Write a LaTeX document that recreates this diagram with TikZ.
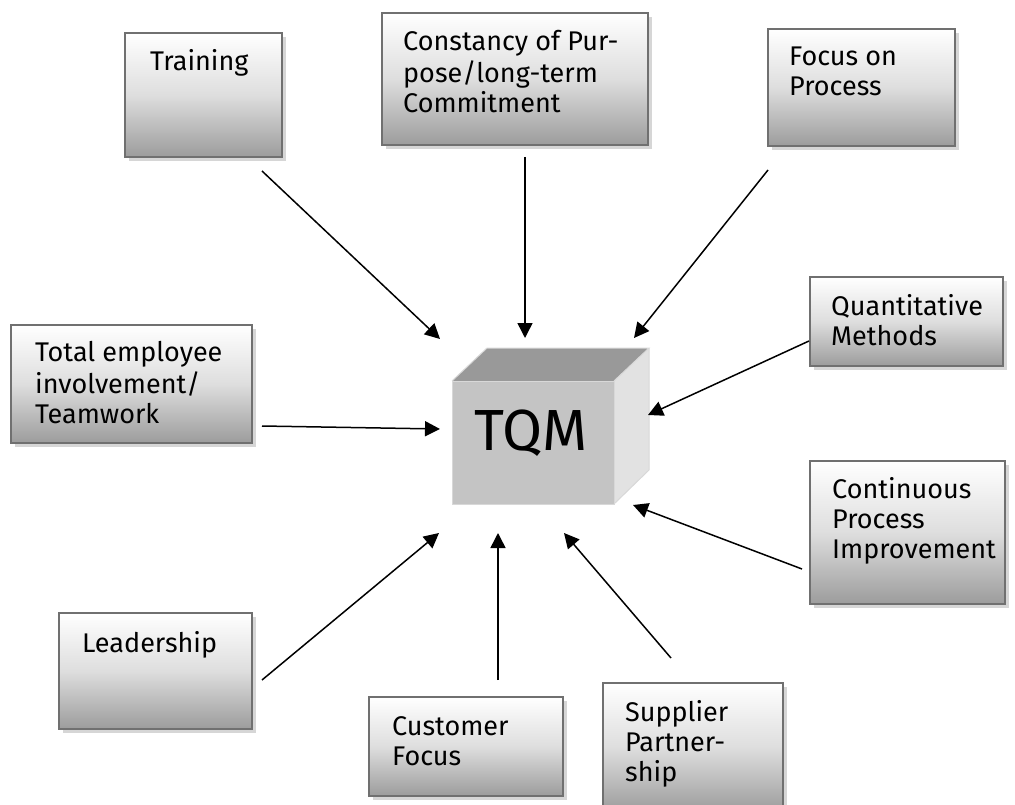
\documentclass[tikz,border=0pt]{standalone}
\usepackage{fontspec}
\setmainfont{Fira Sans}
\usetikzlibrary{arrows.meta}
\definecolor{boxborder}{HTML}{707070}
\definecolor{boxshadow}{HTML}{D6D6D6}
\definecolor{boxbottom}{HTML}{9C9C9C}
\definecolor{cubefront}{HTML}{C4C4C4}
\definecolor{cubetop}{HTML}{999999}
\definecolor{cuberight}{HTML}{E2E2E2}
\definecolor{cubeedge}{HTML}{D8D8D8}
\tikzset{
  conceptbox/.style={draw=boxborder, line width=2pt, top color=white, bottom color=boxbottom, middle color=black!13},
  boxshade/.style={fill=boxshadow, draw=none},
  boxtext/.style={anchor=north west, inner sep=0pt, align=left, font=\fontsize{27}{30}\selectfont, text=black},
  feed/.style={line width=1.5pt, -{Triangle[length=15pt,width=15pt]}},
}
\begin{document}
\begin{tikzpicture}[x=1pt,y=-1pt]
\useasboundingbox (0,0) rectangle (1015,805);
% boxes: shadow, box, named corner
\newcommand{\conceptnode}[5]{%
  \fill[boxshade] (#2+4,#3+4) rectangle (#4+4,#5+4);
  \path[conceptbox] (#2,#3) rectangle (#4,#5);
  \coordinate (#1) at (#2,#3);
}
\conceptnode{training}{125}{33}{282}{157}
\conceptnode{constancy}{382}{13}{648}{145}
\conceptnode{focus}{768}{29}{955}{146}
\conceptnode{quant}{810}{277}{1003}{366}
\conceptnode{total}{11}{325}{252}{443}
\conceptnode{contin}{810}{461}{1005}{604}
\conceptnode{leader}{59}{613}{252}{729}
\conceptnode{customer}{369}{697}{563}{796}
\conceptnode{supplier}{603}{683}{783}{812}

\node[boxtext] (tTraining) at (150,49.6) {\strut Training};
\node[boxtext] (tConstancy) at (403,29.3) {\strut Constancy of Pur-\\pose/long-term\\Commitment};
\node[boxtext] (tFocus) at (789,44.6) {\strut Focus on\\Process};
\node[boxtext] (tQuant) at (831,294.6) {\strut Quantitative\\Methods};
\node[boxtext] (tTotal) at (35,340.6) {\strut Total employee\\involvement/\\Teamwork};
\node[boxtext] (tContin) at (832,477.6) {\strut Continuous\\Process\\Improvement};
\node[boxtext] (tLeader) at (82,631.6) {\strut Leadership};
\node[boxtext] (tCustomer) at (392,714.6) {\strut Customer\\Focus};
\node[boxtext] (tSupplier) at (625,700.6) {\strut Supplier\\Partner-\\ship};

% cube
\fill[cubetop] (452,381) -- (487,348) -- (649,348) -- (614,381) -- cycle;
\fill[cuberight] (614,381) -- (649,348) -- (649,470) -- (614,504) -- cycle;
\fill[cubefront] (452,381) rectangle (614,504);
\draw[cubeedge, line width=1pt] (452,381) rectangle (614,504);
\draw[cubeedge, line width=1pt] (452,381) -- (487,348) -- (649,348) -- (614,381);
\draw[cubeedge, line width=1pt] (649,348) -- (649,470) -- (614,504);
\node[anchor=base, inner sep=0pt, font=\fontsize{58}{60}\selectfont] (tqm) at (531,450) {TQM};

% arrow ends
\coordinate (sTraining) at (262,171);   \coordinate (eTraining) at (440,339);
\coordinate (sConstancy) at (525,157);  \coordinate (eConstancy) at (525,338);
\coordinate (sFocus) at (768,170);      \coordinate (eFocus) at (634,338);
\coordinate (sQuant) at (809,341);      \coordinate (eQuant) at (648,415);
\coordinate (sTotal) at (262,426);      \coordinate (eTotal) at (440,429);
\coordinate (sContin) at (802,569);     \coordinate (eContin) at (633,505);
\coordinate (sLeader) at (262,680);     \coordinate (eLeader) at (439,533);
\coordinate (sCustomer) at (498,680);   \coordinate (eCustomer) at (498,533);
\coordinate (sSupplier) at (671,658);   \coordinate (eSupplier) at (564,533);

\foreach \n in {Training,Constancy,Focus,Quant,Total,Contin,Leader,Customer,Supplier}
  \draw[feed] (s\n) -- (e\n);
\end{tikzpicture}
\end{document}
